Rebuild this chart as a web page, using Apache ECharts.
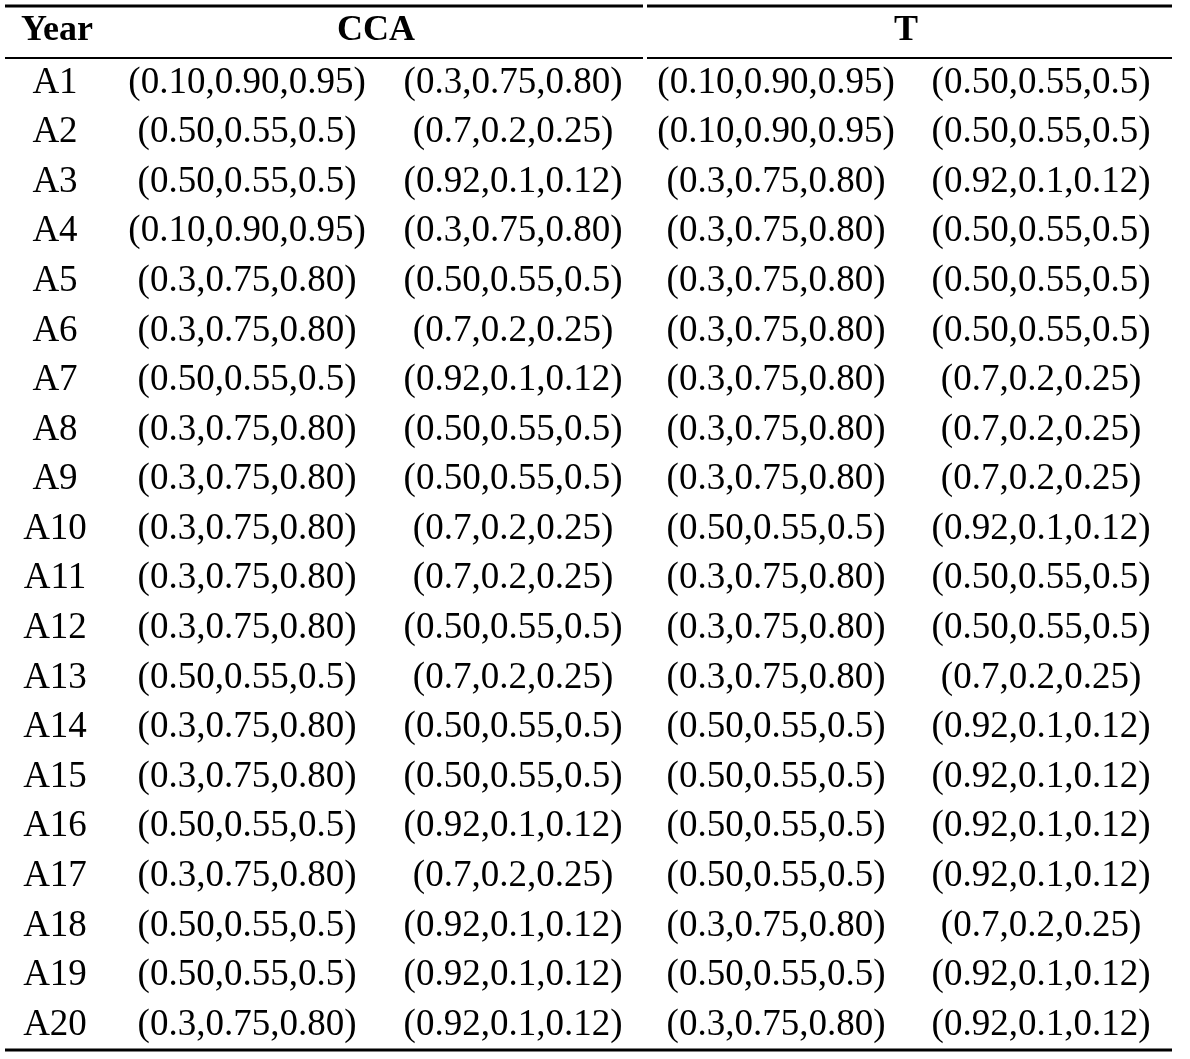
<!DOCTYPE html>
<html>
<head>
<meta charset="utf-8">
<script src="https://cdn.jsdelivr.net/npm/echarts@6/dist/echarts.min.js"></script>
<style>html,body{margin:0;background:#fff;}#main{width:1190px;height:1059px;}</style>
</head>
<body>
<div id="main"></div>
<script>
var headers = ['Year', 'CCA', 'T'];
var years = ['A1','A2','A3','A4','A5','A6','A7','A8','A9','A10','A11','A12','A13','A14','A15','A16','A17','A18','A19','A20'];
var cca1 = ['(0.10,0.90,0.95)','(0.50,0.55,0.5)','(0.50,0.55,0.5)','(0.10,0.90,0.95)','(0.3,0.75,0.80)','(0.3,0.75,0.80)','(0.50,0.55,0.5)','(0.3,0.75,0.80)','(0.3,0.75,0.80)','(0.3,0.75,0.80)','(0.3,0.75,0.80)','(0.3,0.75,0.80)','(0.50,0.55,0.5)','(0.3,0.75,0.80)','(0.3,0.75,0.80)','(0.50,0.55,0.5)','(0.3,0.75,0.80)','(0.50,0.55,0.5)','(0.50,0.55,0.5)','(0.3,0.75,0.80)'];
var cca2 = ['(0.3,0.75,0.80)','(0.7,0.2,0.25)','(0.92,0.1,0.12)','(0.3,0.75,0.80)','(0.50,0.55,0.5)','(0.7,0.2,0.25)','(0.92,0.1,0.12)','(0.50,0.55,0.5)','(0.50,0.55,0.5)','(0.7,0.2,0.25)','(0.7,0.2,0.25)','(0.50,0.55,0.5)','(0.7,0.2,0.25)','(0.50,0.55,0.5)','(0.50,0.55,0.5)','(0.92,0.1,0.12)','(0.7,0.2,0.25)','(0.92,0.1,0.12)','(0.92,0.1,0.12)','(0.92,0.1,0.12)'];
var t1 = ['(0.10,0.90,0.95)','(0.10,0.90,0.95)','(0.3,0.75,0.80)','(0.3,0.75,0.80)','(0.3,0.75,0.80)','(0.3,0.75,0.80)','(0.3,0.75,0.80)','(0.3,0.75,0.80)','(0.3,0.75,0.80)','(0.50,0.55,0.5)','(0.3,0.75,0.80)','(0.3,0.75,0.80)','(0.3,0.75,0.80)','(0.50,0.55,0.5)','(0.50,0.55,0.5)','(0.50,0.55,0.5)','(0.50,0.55,0.5)','(0.3,0.75,0.80)','(0.50,0.55,0.5)','(0.3,0.75,0.80)'];
var t2 = ['(0.50,0.55,0.5)','(0.50,0.55,0.5)','(0.92,0.1,0.12)','(0.50,0.55,0.5)','(0.50,0.55,0.5)','(0.50,0.55,0.5)','(0.7,0.2,0.25)','(0.7,0.2,0.25)','(0.7,0.2,0.25)','(0.92,0.1,0.12)','(0.50,0.55,0.5)','(0.50,0.55,0.5)','(0.7,0.2,0.25)','(0.92,0.1,0.12)','(0.92,0.1,0.12)','(0.92,0.1,0.12)','(0.92,0.1,0.12)','(0.7,0.2,0.25)','(0.92,0.1,0.12)','(0.92,0.1,0.12)'];

// column centres (layout, px on a 0..1190 x axis)
var colX = [55, 247, 513, 776, 1041];
var headX = [57, 376, 906];
var font = 'Liberation Serif';

var cells = [];
var cols = [years, cca1, cca2, t1, t2];
for (var c = 0; c < cols.length; c++) {
  for (var r = 0; r < years.length; r++) {
    cells.push({ name: cols[c][r], value: [colX[c], r + 1] });
  }
}
var heads = headers.map(function (h, i) { return { name: h, value: [headX[i], -0.05] }; });

var chart = echarts.init(document.getElementById('main'));
chart.setOption({
  animation: false,
  grid: { left: 0, right: 0, top: 8.6, bottom: 9.2 },
  xAxis: { type: 'value', min: 0, max: 1190, show: false },
  yAxis: { type: 'value', min: -0.5, max: 20.5, inverse: true, show: false },
  series: [
    {
      type: 'scatter', symbolSize: 0, data: cells, itemStyle: { opacity: 1 },
      label: { show: true, position: 'inside', formatter: '{b}', color: '#000', fontFamily: font, fontSize: 37 }
    },
    {
      type: 'scatter', symbolSize: 0, data: heads, itemStyle: { opacity: 1 },
      label: { show: true, position: 'inside', formatter: '{b}', color: '#000', fontFamily: font, fontSize: 36, fontWeight: 'bold' }
    }
  ],
  graphic: [
    { type: 'line', shape: { x1: 5, y1: 6, x2: 643, y2: 6 }, style: { stroke: '#000', lineWidth: 3 } },
    { type: 'line', shape: { x1: 647, y1: 6, x2: 1172, y2: 6 }, style: { stroke: '#000', lineWidth: 3 } },
    { type: 'line', shape: { x1: 5, y1: 58, x2: 643, y2: 58 }, style: { stroke: '#000', lineWidth: 2 } },
    { type: 'line', shape: { x1: 647, y1: 58, x2: 1172, y2: 58 }, style: { stroke: '#000', lineWidth: 2 } },
    { type: 'line', shape: { x1: 5, y1: 1050, x2: 1172, y2: 1050 }, style: { stroke: '#000', lineWidth: 3 } }
  ]
});
</script>
</body>
</html>
